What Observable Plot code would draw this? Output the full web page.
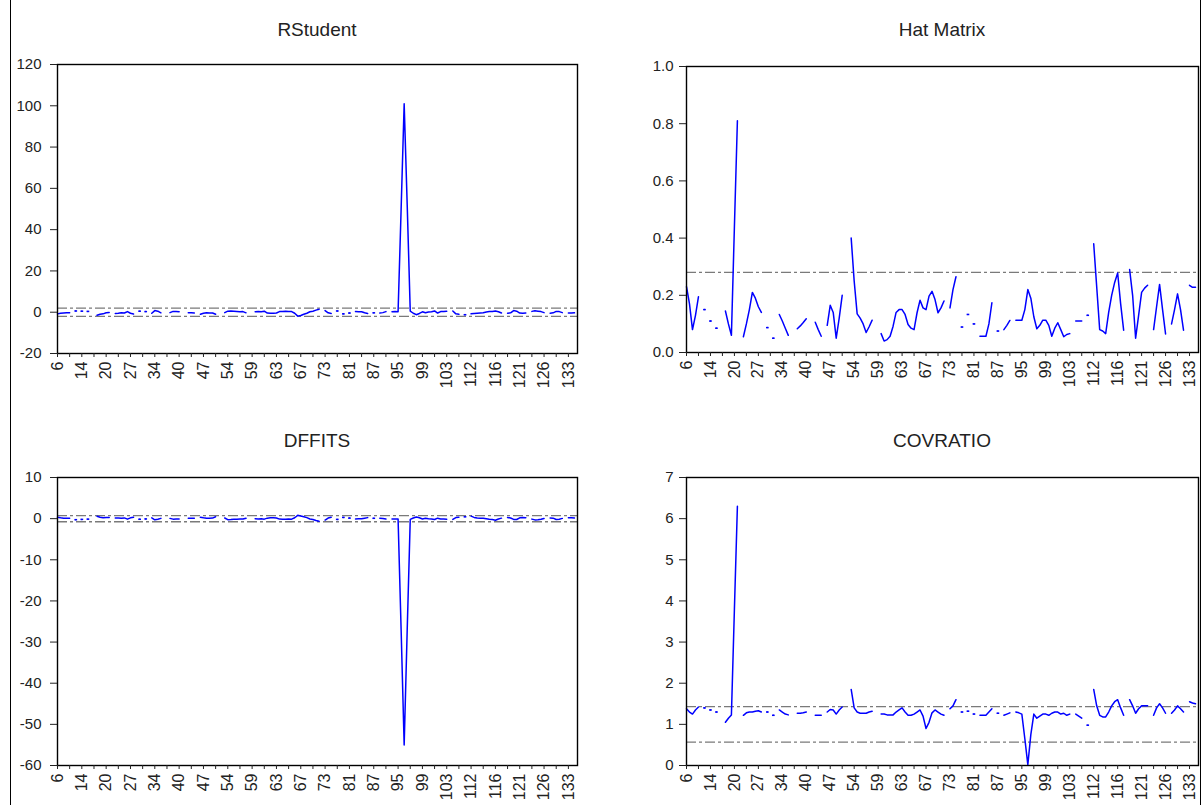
<!DOCTYPE html>
<html><head><meta charset="utf-8">
<script src="https://cdn.jsdelivr.net/npm/d3@7"></script>
<script src="https://cdn.jsdelivr.net/npm/@observablehq/plot@0.6"></script>
<style>
body{margin:0;background:#fff;width:1203px;height:805px;overflow:hidden;position:relative;font-family:"Liberation Sans",Arial,sans-serif;}
.panel{position:absolute;}
.title{position:absolute;font-size:19px;color:#222;white-space:nowrap;transform:translateX(-50%);}
.vline{position:absolute;top:0;width:0;height:805px;border-left:1.5px solid #000;}
</style></head><body>
<div class="vline" style="left:10px"></div>
<div class="vline" style="left:1200px"></div>
<script>
// observation labels (one every 8 positions)
const xLabels = ["6","14","20","27","34","40","47","54","59","63","67","73","81","87","95","99","103","112","116","121","126","133"];
const N = 172;

const rstudent = [
-0.8,-0.5,-0.4,-0.3,-0.2,null,0.6,null,0.5,null,
0.4,null,null,-1.5,-1.0,-0.8,-0.3,-0.15,null,-0.6,
-0.5,-0.3,-0.4,0.3,-0.5,-0.9,null,0.5,null,0.3,
null,-0.5,0.8,0.5,-0.3,null,null,-0.2,0.4,0.3,
0.2,null,null,-0.3,-0.3,-0.4,null,-1.0,-0.5,-0.3,
-0.4,-0.4,-1.0,null,null,-0.2,0.5,0.6,0.5,0.4,
0.2,0.3,-0.3,null,null,0.2,0.3,0.2,0.5,-0.4,
-0.5,-0.5,-0.4,0.3,0.4,0.5,0.4,0.3,-0.5,-1.9,
-1.6,-1.0,-0.5,0.2,0.5,1.0,1.4,null,0.8,-0.3,
-0.6,null,0.6,null,-0.8,null,-0.4,null,0.3,0.2,
0.2,-0.3,-0.6,null,-0.3,null,-0.4,-0.2,0.3,null,
0.2,0.3,0.2,50,101,52,0.5,-0.5,-1.2,-0.6,
0.2,-0.3,0.1,0.2,0.6,-0.4,0.3,0.4,0.5,null,
0.6,-0.8,-1.0,null,-1.2,null,-0.8,-0.6,-0.5,-0.4,
-0.3,0.1,0.3,0.4,0.6,0.2,-0.4,null,-0.5,-0.3,
0.8,0.5,-0.4,-0.5,-0.4,null,0.4,0.7,0.5,0.3,
-0.2,null,-0.5,-0.3,0.4,0.3,-0.2,null,-0.4,-0.4,
-0.3,null];

const hatMatrix = [
0.23,0.17,0.08,0.13,0.195,null,0.15,null,0.11,null,
0.085,null,null,0.145,0.10,0.06,0.44,0.81,null,0.055,
0.10,0.15,0.21,0.19,0.16,0.14,null,0.087,null,0.05,
null,0.133,0.11,0.085,0.06,null,null,0.083,0.093,0.105,
0.118,null,null,0.106,0.08,0.057,null,0.095,0.165,0.14,
0.05,0.12,0.2,null,null,0.4,0.25,0.135,0.12,0.1,
0.07,0.09,0.113,null,null,0.066,0.04,0.045,0.057,0.092,
0.14,0.15,0.15,0.133,0.098,0.085,0.08,0.139,0.183,0.156,
0.15,0.197,0.214,0.185,0.139,0.156,0.18,null,0.156,0.22,
0.265,null,0.089,null,0.133,null,0.1,null,0.057,0.057,
0.057,0.1,0.174,null,0.075,null,0.08,0.095,0.112,null,
0.113,0.113,0.113,0.15,0.22,0.19,0.125,0.083,0.095,0.113,
0.113,0.095,0.057,0.085,0.104,0.08,0.055,0.063,0.066,null,
0.11,0.11,0.11,null,0.13,null,0.38,0.23,0.08,0.075,
0.066,0.14,0.2,0.245,0.278,0.17,0.078,null,0.29,0.2,
0.05,0.13,0.21,0.225,0.235,null,0.08,0.16,0.238,0.15,
0.065,null,0.1,0.15,0.205,0.15,0.078,null,0.235,0.228,
0.228,null];

const dffits = [
0.35,0.2,0.12,0.12,0.1,null,-0.25,null,-0.18,null,
-0.12,null,null,0.6,0.33,0.2,0.25,0.3,null,0.15,
0.15,0.12,0.18,-0.13,0.2,0.35,null,-0.15,null,-0.07,
null,0.2,-0.28,-0.15,0.07,null,null,0.06,-0.12,-0.1,
-0.07,null,null,0.1,0.08,0.1,null,0.32,0.2,0.12,
0.09,0.14,0.45,null,null,0.16,-0.25,-0.22,-0.17,-0.13,
-0.06,-0.09,0.1,null,null,-0.05,-0.06,-0.04,-0.12,0.12,
0.2,0.2,0.16,-0.11,-0.13,-0.14,-0.11,-0.12,0.22,0.8,
0.65,0.45,0.25,-0.09,-0.2,-0.45,-0.65,null,-0.35,0.15,
0.35,null,-0.18,null,0.3,null,0.13,null,-0.07,-0.05,
-0.05,0.1,0.25,null,0.08,null,0.12,0.06,-0.1,null,
-0.07,-0.1,-0.07,-27,-55,-27,-0.18,0.15,0.38,0.2,
-0.07,0.1,-0.02,-0.06,-0.2,0.12,-0.07,-0.1,-0.13,null,
-0.2,0.27,0.33,null,0.45,null,0.6,0.3,0.15,0.11,
0.08,-0.04,-0.15,-0.23,-0.38,-0.09,0.12,null,0.3,0.15,
-0.18,-0.2,0.2,0.26,0.22,null,-0.12,-0.3,-0.28,-0.13,
0.05,null,0.17,0.12,-0.2,-0.13,0.06,null,0.22,0.22,
0.17,null];

const covratio = [
1.38,1.3,1.25,1.35,1.42,null,1.4,null,1.35,null,
1.3,null,null,1.05,1.15,1.23,3.8,6.3,null,1.22,
1.28,1.3,1.3,1.32,1.33,1.3,null,1.3,null,1.22,
null,1.35,1.3,1.25,1.23,null,null,1.27,1.27,1.28,
1.3,null,null,1.22,1.22,1.22,null,1.3,1.36,1.35,
1.25,1.35,1.42,null,null,1.85,1.4,1.3,1.27,1.27,
1.27,1.3,1.32,null,null,1.25,1.25,1.23,1.23,1.23,
1.3,1.35,1.4,1.3,1.22,1.22,1.25,1.3,1.35,1.2,
0.9,1.05,1.28,1.35,1.3,1.25,1.22,null,1.38,1.45,
1.6,null,1.3,null,1.32,null,1.25,null,1.22,1.22,
1.22,1.3,1.38,null,1.27,null,1.22,1.25,1.28,null,
1.3,1.28,1.25,0.65,0.02,0.75,1.25,1.15,1.2,1.25,
1.25,1.22,1.27,1.3,1.3,1.25,1.27,1.22,1.25,null,
1.25,1.2,1.15,null,0.98,null,1.85,1.45,1.22,1.18,
1.18,1.3,1.45,1.55,1.6,1.4,1.22,null,1.6,1.45,
1.27,1.38,1.45,1.45,1.45,null,1.22,1.4,1.5,1.4,
1.27,null,1.27,1.35,1.45,1.38,1.3,null,1.55,1.52,
1.5,null];

// y-axis ticks and reference lines
const rsTicks = [-20,0,20,40,60,80,100,120];
const hatTicks = [0,0.2,0.4,0.6,0.8,1.0];
const dfTicks = [-60,-50,-40,-30,-20,-10,0,10];
const covTicks = [0,1,2,3,4,5,6,7];
const rsRefs = [2,-2];
const hatRefs = [0.28];
const dfRefs = [0.75,-0.75];
const covRefs = [1.43,0.57];

const idx = d3.range(N);
const xTickPos = d3.range(0, N, 4);
const FONT = '"Liberation Sans", Arial, sans-serif';

function panel(o) {
  const vals = o.values;
  const rows = idx.map(i => ({i, v: vals[i] == null ? NaN : vals[i]}));
  const iso = rows.filter(d => !isNaN(d.v) && (d.i === 0 || vals[d.i-1] == null) && (d.i === N-1 || vals[d.i+1] == null));
  const chart = Plot.plot({
    width: o.width, height: o.height,
    marginLeft: o.mL, marginRight: o.mR, marginTop: o.mT, marginBottom: o.mB,
    style: {fontFamily: FONT, fontSize: "15px", color: "#222", background: "transparent", overflow: "visible"},
    x: {domain: [0, N-1]},
    y: {domain: o.yDomain},
    marks: [
      Plot.ruleY(o.refs, {stroke: "#7a7a7a", strokeWidth: 1.3, strokeDasharray: "10,3,3,3"}),
      Plot.line(rows, {x: "i", y: "v", stroke: "#0000ff", strokeWidth: 1.5}),
      Plot.link(iso, {x1: d => d.i - 0.45, x2: d => d.i + 0.45, y1: "v", y2: "v", stroke: "#0000ff", strokeWidth: 1.5}),
      Plot.frame({stroke: "#000", strokeWidth: 1.4}),
      Plot.axisY({ticks: o.yTicks, tickFormat: o.yFormat, tickSize: 7, tickPadding: o.pad, label: null, fontSize: 15}),
      Plot.axisX({ticks: xTickPos, tickFormat: i => i % 8 === 0 ? xLabels[i / 8] : "", tickRotate: -90, tickSize: 4, tickPadding: 4, label: null, fontSize: 16})
    ]
  });
  const wrap = document.createElement("div");
  wrap.className = "panel";
  wrap.style.left = o.left + "px";
  wrap.style.top = o.top + "px";
  wrap.appendChild(chart);
  document.body.appendChild(wrap);
  const t = document.createElement("div");
  t.className = "title";
  t.textContent = o.title;
  t.style.left = (o.left + o.mL + (o.width - o.mL - o.mR) / 2) + "px";
  t.style.top = o.titleTop + "px";
  document.body.appendChild(t);
}

const fmtInt = d => String(d);
const fmt1 = d3.format(".1f");

panel({title: "RStudent", values: rstudent, yDomain: [-20, 120], yTicks: rsTicks, yFormat: fmtInt, refs: rsRefs, pad: 9,
  left: 0, top: 44, width: 600, height: 360, mL: 57, mR: 23, mT: 20, mB: 51, titleTop: 19});
panel({title: "Hat Matrix", values: hatMatrix, yDomain: [0, 1], yTicks: hatTicks, yFormat: fmt1, refs: hatRefs, pad: 6,
  left: 600, top: 44, width: 603, height: 360, mL: 86, mR: 5, mT: 22, mB: 52, titleTop: 19});
panel({title: "DFFITS", values: dffits, yDomain: [-60, 10], yTicks: dfTicks, yFormat: fmtInt, refs: dfRefs, pad: 9,
  left: 0, top: 455, width: 600, height: 350, mL: 57, mR: 23, mT: 22, mB: 40, titleTop: 430});
panel({title: "COVRATIO", values: covratio, yDomain: [0, 7], yTicks: covTicks, yFormat: fmtInt, refs: covRefs, pad: 6,
  left: 600, top: 455, width: 603, height: 350, mL: 86, mR: 5, mT: 22, mB: 40, titleTop: 430});
</script></body></html>
